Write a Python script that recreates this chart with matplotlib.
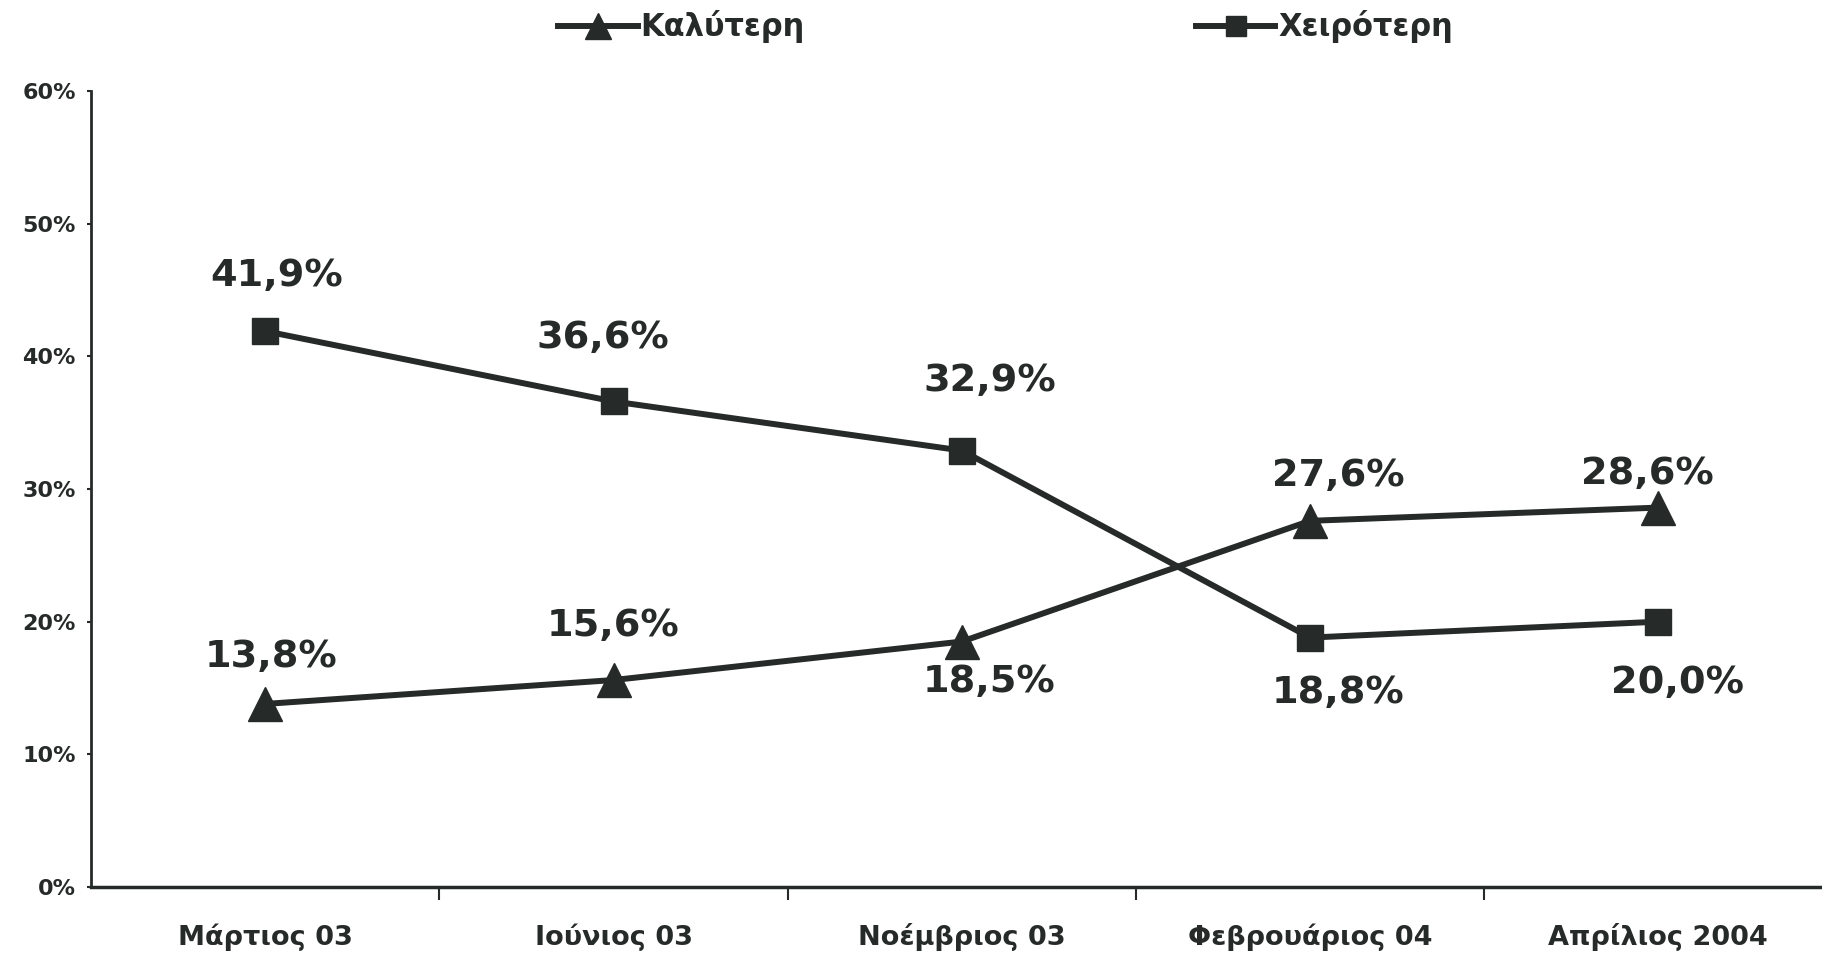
import matplotlib
matplotlib.use("Agg")
import matplotlib.pyplot as plt
from matplotlib.ticker import FixedLocator, PercentFormatter

# Δεδομένα
periods = ["Μάρτιος 03", "Ιούνιος 03", "Νοέμβριος 03", "Φεβρουάριος 04", "Απρίλιος 2004"]
better = [13.8, 15.6, 18.5, 27.6, 28.6]
worse = [41.9, 36.6, 32.9, 18.8, 20.0]

# Θέση των ετικετών (σε points, πάνω/κάτω από το σημείο)
better_offsets = [(4, 34), (0, 39), (20, -29), (20, 32), (-8, 24)]
worse_offsets = [(8, 40), (-8, 46), (20, 50), (20, -40), (14, -44)]

ink = "#262a29"

plt.rcParams["font.family"] = ["DejaVu Sans"]
plt.rcParams["font.weight"] = "bold"

fig = plt.figure(figsize=(18.22, 9.55), dpi=100)
ax = fig.add_axes([0.05, 0.0712, 0.95, 0.8335])

x = list(range(len(periods)))
ax.plot(x, better, color=ink, lw=4.3, marker="^", markersize=25,
        label="Καλύτερη", zorder=3)
ax.plot(x, worse, color=ink, lw=4.3, marker="s", markersize=19,
        label="Χειρότερη", zorder=3)

for xi, v, off in zip(x, better, better_offsets):
    ax.annotate(f"{v:.1f}%".replace(".", ","), (xi, v), xytext=off,
                textcoords="offset points", ha="center", va="center",
                fontsize=27.5, fontweight="bold", color=ink)
for xi, v, off in zip(x, worse, worse_offsets):
    ax.annotate(f"{v:.1f}%".replace(".", ","), (xi, v), xytext=off,
                textcoords="offset points", ha="center", va="center",
                fontsize=27.5, fontweight="bold", color=ink)

ax.set_xlim(-0.5, 4.47)
ax.set_ylim(0, 60)
ax.set_xticks(x)
ax.set_xticklabels(periods)
ax.xaxis.set_minor_locator(FixedLocator([0.5, 1.5, 2.5, 3.5]))
ax.tick_params(axis="x", which="major", length=0, pad=26, labelsize=19.5,
               labelcolor=ink)
ax.tick_params(axis="x", which="minor", length=9, width=1.5, color=ink,
               direction="out")
ax.set_yticks(range(0, 61, 10))
ax.yaxis.set_major_formatter(PercentFormatter(decimals=0))
ax.tick_params(axis="y", length=3, width=1.5, color=ink, pad=8,
               labelsize=16, labelcolor=ink)

for side in ["top", "right"]:
    ax.spines[side].set_visible(False)
ax.spines["left"].set_color(ink)
ax.spines["left"].set_linewidth(2)
ax.spines["bottom"].set_color(ink)
ax.spines["bottom"].set_linewidth(2.5)

leg = fig.legend(loc="center", bbox_to_anchor=(0.552, 0.972), ncol=2,
                 frameon=False, fontsize=22, handlelength=2.6,
                 handletextpad=0.1, columnspacing=12.8, markerscale=0.75)
for t in leg.get_texts():
    t.set_color(ink)
    t.set_fontweight("bold")

fig.savefig("out.png", dpi=100)
